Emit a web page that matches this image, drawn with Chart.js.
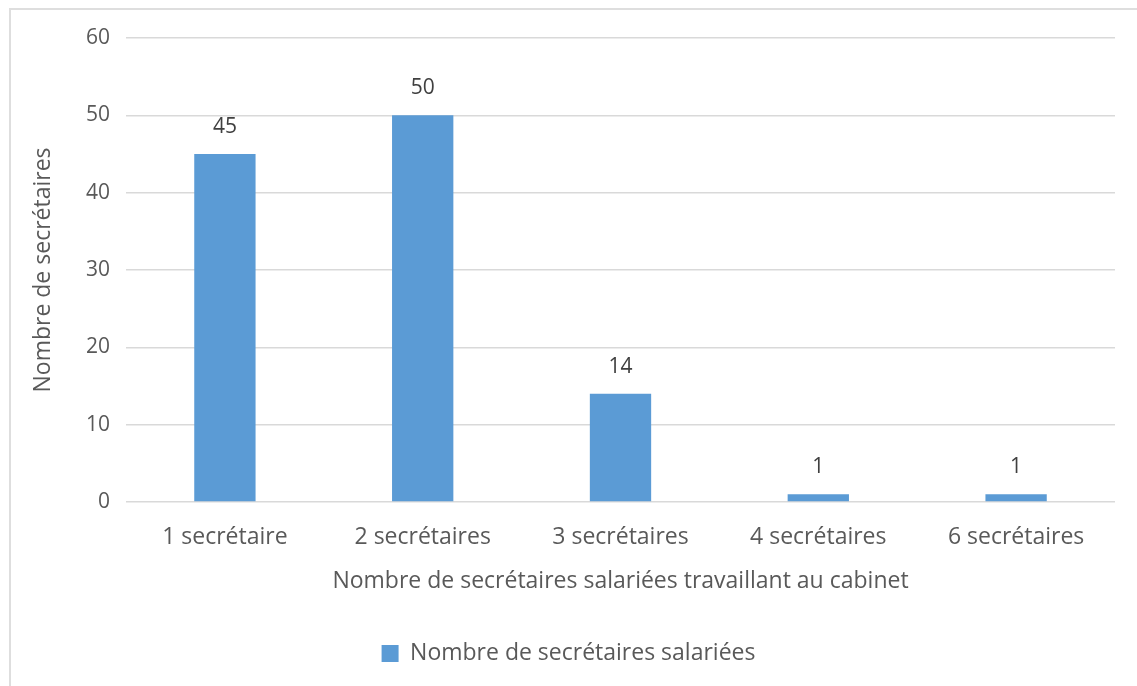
<!DOCTYPE html>
<html>
<head>
<meta charset="utf-8">
<script src="https://cdn.jsdelivr.net/npm/chart.js@4.4.1/dist/chart.umd.min.js"></script>
<style>
    html, body { margin: 0; padding: 0; background: #ffffff; }
    #wrap { position: relative; width: 1137px; height: 686px; }
    #frame {
        position: absolute; left: 9px; top: 8px; right: 0; bottom: 0;
        border-left: 2px solid #dedede; border-top: 2px solid #dedede;
    }
    canvas { position: absolute; left: 0; top: 0; }
</style>
</head>
<body>
<div id="wrap">
    <div id="frame"></div>
    <canvas id="chart" width="1137" height="686"></canvas>
</div>
<script>
const categories = ["1 secrétaire", "2 secrétaires", "3 secrétaires", "4 secrétaires", "6 secrétaires"];
const values = [45, 50, 14, 1, 1];
const seriesName = "Nombre de secrétaires salariées";
const xTitle = "Nombre de secrétaires salariées travaillant au cabinet";
const yTitle = "Nombre de secrétaires";

const fontFamily = "'Open Sans', 'Noto Sans', sans-serif";
const textColor = "#595959";

// draws the value above each bar
const valueLabels = {
    id: "valueLabels",
    afterDatasetsDraw(chart) {
        const ctx = chart.ctx;
        const meta = chart.getDatasetMeta(0);
        ctx.save();
        ctx.font = "21px " + fontFamily;
        ctx.fillStyle = "#404040";
        ctx.textAlign = "center";
        ctx.textBaseline = "middle";
        meta.data.forEach((bar, i) => {
            ctx.fillText(String(values[i]), bar.x, bar.y - 27);
        });
        ctx.restore();
    }
};

new Chart(document.getElementById("chart"), {
    type: "bar",
    data: {
        labels: categories,
        datasets: [{
            label: seriesName,
            data: values,
            backgroundColor: "#5b9bd5",
            barPercentage: 0.62,
            categoryPercentage: 0.5
        }]
    },
    options: {
        responsive: false,
        animation: false,
        layout: { padding: { left: 22, right: 22, top: 38, bottom: 11 } },
        plugins: {
            tooltip: { enabled: false },
            legend: {
                position: "bottom",
                labels: {
                    color: textColor,
                    font: { family: fontFamily, size: 23 },
                    boxWidth: 17,
                    boxHeight: 17,
                    padding: 10
                }
            }
        },
        scales: {
            x: {
                grid: { display: false, drawTicks: false },
                border: { display: false },
                ticks: {
                    color: textColor,
                    font: { family: fontFamily, size: 23 },
                    padding: 22
                },
                title: {
                    display: true,
                    text: xTitle,
                    color: textColor,
                    font: { family: fontFamily, size: 23 },
                    padding: { top: 0, bottom: 37 }
                },
                afterFit(scale) { scale.height = 130; }
            },
            y: {
                min: 0,
                max: 60,
                ticks: {
                    stepSize: 10,
                    color: textColor,
                    font: { family: fontFamily, size: 21 },
                    padding: 16
                },
                grid: { color: "#d9d9d9", lineWidth: 1.5, drawTicks: false },
                border: { display: false },
                title: {
                    display: true,
                    text: yTitle,
                    color: textColor,
                    font: { family: fontFamily, size: 23 },
                    padding: { top: 8, bottom: 0 }
                },
                afterFit(scale) { scale.width = 104; }
            }
        }
    },
    plugins: [valueLabels]
});
</script>
</body>
</html>
